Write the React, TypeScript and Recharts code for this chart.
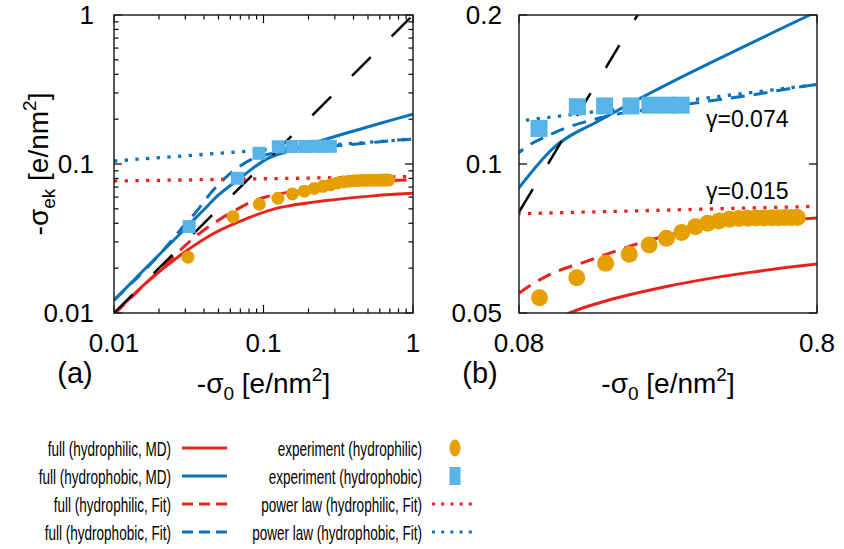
import React from "react";
import { ComposedChart, Line, Scatter, XAxis, YAxis } from "recharts";

const FONT = '"Liberation Sans", Arial, Helvetica, sans-serif';
const RED = "#e8231b";
const BLUE = "#0a72b8";
const ORANGE = "#e69f00";
const SKY = "#56b4e9";

// ---------- data (x = -sigma0, y = -sigma_ek, e/nm^2) ----------
const identityLine = [
  { x: 0.01, y: 0.01 },
  { x: 1, y: 1 },
];

const fullHydrophilicMD = [
  { x: 0.01, y: 0.0099 },
  { x: 0.0167, y: 0.0162 },
  { x: 0.0279, y: 0.0245 },
  { x: 0.0467, y: 0.0343 },
  { x: 0.078, y: 0.0432 },
  { x: 0.12, y: 0.0502 },
  { x: 0.15, y: 0.0525 },
  { x: 0.255, y: 0.0567 },
  { x: 0.477, y: 0.0604 },
  { x: 0.8, y: 0.0628 },
  { x: 1, y: 0.0636 },
];

const fullHydrophobicMD = [
  { x: 0.01, y: 0.0122 },
  { x: 0.0167, y: 0.0205 },
  { x: 0.0279, y: 0.0343 },
  { x: 0.04, y: 0.0495 },
  { x: 0.05, y: 0.062 },
  { x: 0.06, y: 0.0718 },
  { x: 0.07, y: 0.0805 },
  { x: 0.08, y: 0.0895 },
  { x: 0.104, y: 0.1075 },
  { x: 0.15, y: 0.1227 },
  { x: 0.255, y: 0.1455 },
  { x: 0.477, y: 0.175 },
  { x: 0.757, y: 0.2 },
  { x: 1, y: 0.216 },
];

const fullHydrophilicFit = [
  { x: 0.01, y: 0.0098 },
  { x: 0.02, y: 0.0192 },
  { x: 0.035, y: 0.0325 },
  { x: 0.05, y: 0.042 },
  { x: 0.065, y: 0.049 },
  { x: 0.08, y: 0.0548 },
  { x: 0.1034, y: 0.0601 },
  { x: 0.134, y: 0.0635 },
  { x: 0.22, y: 0.0702 },
  { x: 0.375, y: 0.0752 },
  { x: 0.8, y: 0.0778 },
  { x: 1, y: 0.0785 },
];

const fullHydrophobicFit = [
  { x: 0.01, y: 0.0122 },
  { x: 0.02, y: 0.0245 },
  { x: 0.03, y: 0.0395 },
  { x: 0.035, y: 0.047 },
  { x: 0.045, y: 0.065 },
  { x: 0.055, y: 0.08 },
  { x: 0.062, y: 0.089 },
  { x: 0.07, y: 0.097 },
  { x: 0.08, y: 0.1054 },
  { x: 0.104, y: 0.1153 },
  { x: 0.15, y: 0.124 },
  { x: 0.255, y: 0.1305 },
  { x: 0.477, y: 0.1377 },
  { x: 0.8, y: 0.1448 },
  { x: 1, y: 0.147 },
];

const powerLawHydrophilic = [
  { x: 0.01, y: 0.0769 },
  { x: 1, y: 0.0824 },
];

const powerLawHydrophobic = [
  { x: 0.01, y: 0.1047 },
  { x: 1, y: 0.1472 },
];

const expHydrophilic = [
  { x: 0.03125, y: 0.0237 },
  { x: 0.0625, y: 0.0443 },
  { x: 0.09375, y: 0.0537 },
  { x: 0.125, y: 0.0589 },
  { x: 0.15625, y: 0.063 },
  { x: 0.1875, y: 0.0657 },
  { x: 0.21875, y: 0.0686 },
  { x: 0.25, y: 0.0708 },
  { x: 0.28125, y: 0.0727 },
  { x: 0.3125, y: 0.0747 },
  { x: 0.34375, y: 0.0759 },
  { x: 0.375, y: 0.0767 },
  { x: 0.40625, y: 0.0773 },
  { x: 0.4375, y: 0.0776 },
  { x: 0.46875, y: 0.0777 },
  { x: 0.5, y: 0.0778 },
  { x: 0.53125, y: 0.0778 },
  { x: 0.5625, y: 0.0779 },
  { x: 0.59375, y: 0.0779 },
  { x: 0.625, y: 0.078 },
  { x: 0.65625, y: 0.078 },
  { x: 0.6875, y: 0.078 },
];

const expHydrophobic = [
  { x: 0.0318, y: 0.038 },
  { x: 0.067, y: 0.0802 },
  { x: 0.0934, y: 0.118 },
  { x: 0.1256, y: 0.1305 },
  { x: 0.155, y: 0.131 },
  { x: 0.19, y: 0.131 },
  { x: 0.22, y: 0.1315 },
  { x: 0.25, y: 0.1315 },
  { x: 0.28, y: 0.1315 },
];

// ---------- ticks ----------
const xMajorA = [0.01, 0.1, 1];
const xMajorLabelsA = ["0.01", "0.1", "1"];
const yMajorA = [0.01, 0.1, 1];
const yMajorLabelsA = ["0.01", "0.1", "1"];
const minorA = [0.02, 0.03, 0.04, 0.05, 0.06, 0.07, 0.08, 0.09, 0.2, 0.3, 0.4, 0.5, 0.6, 0.7, 0.8, 0.9];

const xMajorB = [0.08, 0.8];
const xMajorLabelsB = ["0.08", "0.8"];
const yMajorB = [0.05, 0.1, 0.2];
const yMajorLabelsB = ["0.05", "0.1", "0.2"];

const gammaLabels = ["γ=0.074", "γ=0.015"];

const legendLeft = [
  "full (hydrophilic, MD)",
  "full (hydrophobic, MD)",
  "full (hydrophilic, Fit)",
  "full (hydrophobic, Fit)",
];
const legendRight = [
  "experiment (hydrophilic)",
  "experiment (hydrophobic)",
  "power law (hydrophilic, Fit)",
  "power law (hydrophobic, Fit)",
];

// ---------- layout ----------
const PLOT_H = 298;
const X_AXIS_H = 40;
const Y_AXIS_W = 60;
const TICK_FONT = 26;

function labelFor(v: number, majors: number[], labels: string[]) {
  const i = majors.findIndex((m) => Math.abs(m - v) / m < 1e-6);
  return i >= 0 ? labels[i] : null;
}

function makeXTick(majors: number[], labels: string[], dy: number) {
  return (props: any) => {
    const { x, y, payload } = props;
    const lab = labelFor(payload.value, majors, labels);
    const len = lab ? 8 : 4.5;
    return (
      <g>
        <line x1={x} x2={x} y1={y} y2={y - len} stroke="#000" strokeWidth={1.2} />
        <line x1={x} x2={x} y1={y - PLOT_H} y2={y - PLOT_H + len} stroke="#000" strokeWidth={1.2} />
        {lab && (
          <text x={x} y={y + dy} textAnchor="middle" fontSize={TICK_FONT} fontFamily={FONT} fill="#000">
            {lab}
          </text>
        )}
      </g>
    );
  };
}

function makeYTick(majors: number[], labels: string[], gap: number, plotW: number) {
  return (props: any) => {
    const { x, y, payload } = props;
    const lab = labelFor(payload.value, majors, labels);
    const len = lab ? 8 : 4.5;
    return (
      <g>
        <line x1={x} x2={x + len} y1={y} y2={y} stroke="#000" strokeWidth={1.2} />
        <line x1={x + plotW} x2={x + plotW - len} y1={y} y2={y} stroke="#000" strokeWidth={1.2} />
        {lab && (
          <text x={x - gap} y={y + 9} textAnchor="end" fontSize={TICK_FONT} fontFamily={FONT} fill="#000">
            {lab}
          </text>
        )}
      </g>
    );
  };
}

const circleShape = (r: number) => (props: any) =>
  <circle cx={props.cx} cy={props.cy} r={r} fill={ORANGE} />;
const squareShape = (s: number) => (props: any) =>
  <rect x={props.cx - s / 2} y={props.cy - s / 2} width={s} height={s} fill={SKY} />;

function inDomain(pts: { x: number; y: number }[], xd: number[], yd: number[]) {
  return pts.filter((p) => p.x >= xd[0] && p.x <= xd[1] && p.y >= yd[0] && p.y <= yd[1]);
}

function Panel(props: {
  width: number;
  plotLeft: number;
  plotRight: number;
  xDomain: number[];
  yDomain: number[];
  xTicks: number[];
  yTicks: number[];
  xTick: any;
  yTick: any;
  marker: number;
  diagOffset: number;
}) {
  const { xDomain, yDomain, marker } = props;
  const dotted = "3.3 7.4";
  const margin = {
    top: 15,
    right: props.width - props.plotRight,
    bottom: 400 - 15 - PLOT_H - X_AXIS_H,
    left: props.plotLeft - Y_AXIS_W,
  };
  return (
    <ComposedChart width={props.width} height={400} margin={margin}>
      <XAxis
        dataKey="x"
        type="number"
        scale="log"
        domain={xDomain}
        allowDataOverflow
        ticks={props.xTicks}
        interval={0}
        height={X_AXIS_H}
        axisLine={false}
        tickLine={false}
        tickSize={0}
        tickMargin={0}
        tick={props.xTick}
      />
      <YAxis
        dataKey="y"
        type="number"
        scale="log"
        domain={yDomain}
        allowDataOverflow
        ticks={props.yTicks}
        interval={0}
        width={Y_AXIS_W}
        axisLine={false}
        tickLine={false}
        tickSize={0}
        tickMargin={0}
        tick={props.yTick}
      />
      <Scatter
        data={inDomain(expHydrophilic, xDomain, yDomain)}
        dataKey="y"
        shape={circleShape(marker / 2)}
        isAnimationActive={false}
      />
      <Scatter
        data={inDomain(expHydrophobic, xDomain, yDomain)}
        dataKey="y"
        shape={squareShape(marker)}
        isAnimationActive={false}
      />
      <Line data={fullHydrophilicMD} dataKey="y" type="monotone" stroke={RED} strokeWidth={3} dot={false} activeDot={false} isAnimationActive={false} />
      <Line data={fullHydrophobicMD} dataKey="y" type="monotone" stroke={BLUE} strokeWidth={3} dot={false} activeDot={false} isAnimationActive={false} />
      <Line data={fullHydrophilicFit} dataKey="y" type="monotone" stroke={RED} strokeWidth={3} strokeDasharray="14 9" dot={false} activeDot={false} isAnimationActive={false} />
      <Line data={fullHydrophobicFit} dataKey="y" type="monotone" stroke={BLUE} strokeWidth={3} strokeDasharray="14 9" dot={false} activeDot={false} isAnimationActive={false} />
      <Line data={powerLawHydrophilic} dataKey="y" type="linear" stroke={RED} strokeWidth={3.3} strokeDasharray={dotted} dot={false} activeDot={false} isAnimationActive={false} />
      <Line data={powerLawHydrophobic} dataKey="y" type="linear" stroke={BLUE} strokeWidth={3.3} strokeDasharray={dotted} dot={false} activeDot={false} isAnimationActive={false} />
      <Line
        data={identityLine}
        dataKey="y"
        type="linear"
        stroke="#000"
        strokeWidth={2.5}
        strokeDasharray="26.5 29.5"
        strokeDashoffset={props.diagOffset}
        dot={false}
        activeDot={false}
        isAnimationActive={false}
      />
    </ComposedChart>
  );
}

function AxisLabel(props: { x: number; y: number; sub: string; rotate?: boolean }) {
  return (
    <g transform={`translate(${props.x},${props.y})${props.rotate ? " rotate(-90)" : ""}`}>
      <text x={0} y={0} textAnchor="middle" fontSize={28} fontFamily={FONT} fill="#000">
        -σ
        <tspan fontSize={19} dy={7}>{props.sub}</tspan>
        <tspan dy={-7}> [e/nm</tspan>
        <tspan fontSize={19} dy={-12}>2</tspan>
        <tspan dy={12}>]</tspan>
      </text>
    </g>
  );
}

const LEGEND_SQUEEZE = 0.66;
const rowY = [448, 476, 504, 532];

function Overlay() {
  return (
    <svg width={844} height={549} style={{ position: "absolute", left: 0, top: 0, pointerEvents: "none" }}>
      {/* frames */}
      <rect x={114} y={15} width={299} height={298} fill="none" stroke="#222" strokeWidth={1.5} />
      <rect x={519} y={15} width={298} height={298} fill="none" stroke="#222" strokeWidth={1.5} />
      {/* axis labels */}
      <AxisLabel x={48} y={164} sub="ek" rotate />
      <AxisLabel x={263.5} y={393} sub="0" />
      <AxisLabel x={668} y={393} sub="0" />
      <text x={75} y={383} textAnchor="middle" fontSize={29} fontFamily={FONT}>(a)</text>
      <text x={480} y={383} textAnchor="middle" fontSize={29} fontFamily={FONT}>(b)</text>
      {/* gamma annotations */}
      <text x={706} y={127} fontSize={23} fontFamily={FONT}>{gammaLabels[0]}</text>
      <text x={706} y={198.5} fontSize={23} fontFamily={FONT}>{gammaLabels[1]}</text>
      {/* legend */}
      {legendLeft.map((t, i) => (
        <g key={"l" + i} transform={`translate(171,${rowY[i] + 8}) scale(${LEGEND_SQUEEZE},1)`}>
          <text x={0} y={0} textAnchor="end" fontSize={20.5} fontFamily={FONT}>{t}</text>
        </g>
      ))}
      {legendRight.map((t, i) => (
        <g key={"r" + i} transform={`translate(422,${rowY[i] + 8}) scale(${LEGEND_SQUEEZE},1)`}>
          <text x={0} y={0} textAnchor="end" fontSize={20.5} fontFamily={FONT}>{t}</text>
        </g>
      ))}
      <line x1={182} x2={227} y1={rowY[0]} y2={rowY[0]} stroke={RED} strokeWidth={3} />
      <line x1={182} x2={227} y1={rowY[1]} y2={rowY[1]} stroke={BLUE} strokeWidth={3} />
      <line x1={182} x2={227} y1={rowY[2]} y2={rowY[2]} stroke={RED} strokeWidth={3} strokeDasharray="11 6" />
      <line x1={182} x2={227} y1={rowY[3]} y2={rowY[3]} stroke={BLUE} strokeWidth={3} strokeDasharray="11 6" />
      <ellipse cx={455} cy={rowY[0]} rx={5.5} ry={8.5} fill={ORANGE} />
      <rect x={449.5} y={rowY[1] - 9} width={11} height={18} fill={SKY} />
      <line x1={432} x2={475} y1={rowY[2]} y2={rowY[2]} stroke={RED} strokeWidth={3} strokeDasharray="3 6.2" />
      <line x1={432} x2={475} y1={rowY[3]} y2={rowY[3]} stroke={BLUE} strokeWidth={3} strokeDasharray="3 6.2" />
    </svg>
  );
}

export default function App() {
  return (
    <div style={{ position: "fixed", left: 0, top: 0, width: 844, height: 549, background: "#fff", fontFamily: FONT }}>
      <div style={{ position: "absolute", left: 0, top: 0 }}>
        <Panel
          width={420}
          plotLeft={114}
          plotRight={413}
          xDomain={[0.01, 1]}
          yDomain={[0.01, 1]}
          xTicks={[...xMajorA, ...minorA]}
          yTicks={[...yMajorA, ...minorA]}
          xTick={makeXTick(xMajorA, xMajorLabelsA, 39)}
          yTick={makeYTick(yMajorA, yMajorLabelsA, 20, 299)}
          marker={13}
          diagOffset={0}
        />
      </div>
      <div style={{ position: "absolute", left: 420, top: 0 }}>
        <Panel
          width={424}
          plotLeft={99}
          plotRight={397}
          xDomain={[0.08, 0.8]}
          yDomain={[0.05, 0.2]}
          xTicks={xMajorB}
          yTicks={yMajorB}
          xTick={makeXTick(xMajorB, xMajorLabelsB, 39)}
          yTick={makeYTick(yMajorB, yMajorLabelsB, 17, 298)}
          marker={17}
          diagOffset={38}
        />
      </div>
      <Overlay />
    </div>
  );
}
